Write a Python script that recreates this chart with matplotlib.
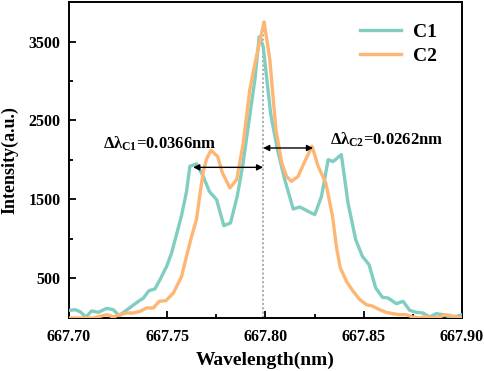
import matplotlib
matplotlib.use("Agg")
import matplotlib.pyplot as plt
from matplotlib.ticker import MultipleLocator, FixedLocator

plt.rcParams['font.family'] = ['Liberation Serif', 'DejaVu Serif']
plt.rcParams['font.weight'] = 'bold'
plt.rcParams['mathtext.fontset'] = 'custom'
plt.rcParams['mathtext.rm'] = 'Liberation Serif:bold'
plt.rcParams['mathtext.it'] = 'Liberation Serif:bold'
plt.rcParams['mathtext.bf'] = 'Liberation Serif:bold'

# C1 (teal)
c1_wl = [667.7000, 667.7031, 667.7056, 667.7086, 667.7115, 667.7149, 667.7192, 667.7225,
         667.7256, 667.7285, 667.7319, 667.7353, 667.7378, 667.7407, 667.7437, 667.7463,
         667.7497, 667.7522, 667.7547, 667.7573, 667.7598, 667.7615, 667.7649, 667.7683,
         667.7714, 667.7751, 667.7788, 667.7822, 667.7856, 667.7886, 667.7917, 667.7946,
         667.7968, 667.7988, 667.8027, 667.8061, 667.8098, 667.8141, 667.8175, 667.8217,
         667.8251, 667.8285, 667.8319, 667.8344, 667.8386, 667.8420, 667.8459, 667.8493,
         667.8527, 667.8561, 667.8595, 667.8624, 667.8666, 667.8700, 667.8734, 667.8768,
         667.8802, 667.8836, 667.8869, 667.8903, 667.8937, 667.8971, 667.9000]
c1_int = [97, 105, 80, 13, 89, 72, 122, 105,
          30, 85, 148, 211, 250, 346, 367, 485,
          654, 823, 1055, 1300, 1600, 1920, 1950, 1793,
          1603, 1498, 1169, 1203, 1540, 1962, 2511, 3017,
          3560, 3440, 2574, 2131, 1751, 1380, 1405, 1350,
          1308, 1540, 2004, 1980, 2068, 1456, 992, 781,
          675, 380, 262, 253, 181, 211, 97, 72,
          63, 13, 55, 42, 13, 20, 42]

# C2 (orange)
c2_wl = [667.7000, 667.7056, 667.7124, 667.7158, 667.7192, 667.7225, 667.7259, 667.7293,
         667.7327, 667.7361, 667.7395, 667.7429, 667.7459, 667.7493, 667.7531, 667.7573,
         667.7598, 667.7624, 667.7649, 667.7666, 667.7683, 667.7700, 667.7722, 667.7756,
         667.7781, 667.7819, 667.7853, 667.7886, 667.7920, 667.7954, 667.7993, 667.8022,
         667.8053, 667.8083, 667.8107, 667.8132, 667.8166, 667.8200, 667.8237, 667.8268,
         667.8307, 667.8341, 667.8361, 667.8380, 667.8412, 667.8446, 667.8480, 667.8514,
         667.8547, 667.8581, 667.8614, 667.8647, 667.8681, 667.8715, 667.8749, 667.8783,
         667.8817, 667.8850, 667.8885, 667.8919, 667.9000]
c2_int = [0, 0, 0, 21, 42, 13, 42, 63,
          63, 84, 127, 127, 211, 219, 316, 527,
          781, 1034, 1250, 1560, 1850, 2013, 2122, 2046,
          1835, 1646, 1751, 2200, 2890, 3312, 3747, 3270,
          2384, 1962, 1793, 1730, 1793, 1983, 2173, 1920,
          1709, 1290, 900, 640, 464, 338, 232, 169,
          148, 105, 72, 55, 42, 42, 13, 0,
          21, 0, 13, 42, 0]

x_ticks = [667.70, 667.75, 667.80, 667.85, 667.90]
y_ticks = [500, 1500, 2500, 3500]
center_wl = 667.7988
arrow1 = (667.7632, 667.7988, 1907)
arrow2 = (667.7988, 667.8242, 2152)

teal = '#80CDC1'
orange = '#FDB673'

fig = plt.figure(figsize=(4.84, 3.71), dpi=100)
ax = fig.add_axes([0.1426, 0.1429, 0.9545 - 0.1426, 0.9946 - 0.1429])

ax.plot(c1_wl, c1_int, color=teal, lw=2.4, label='C1', zorder=3)
ax.plot(c2_wl, c2_int, color=orange, lw=2.4, label='C2', zorder=4)

ax.plot([center_wl, center_wl], [0, 3750], color='#A8A8A8', lw=1.3, ls=(0, (1.2, 1.2)), zorder=2)

for a0, a1, yv in [arrow1, arrow2]:
    ax.annotate('', xy=(a0, yv), xytext=(a1, yv),
                arrowprops=dict(arrowstyle='<|-|>', color='black', lw=1.0,
                                mutation_scale=9, shrinkA=0, shrinkB=0), zorder=6)

ax.text(667.7463, 2200, r'$\Delta\lambda_{\rm C1}$=0.0366nm', ha='center', va='center',
        fontsize=12, fontweight='bold')
ax.text(667.8618, 2260, r'$\Delta\lambda_{\rm C2}$=0.0262nm', ha='center', va='center',
        fontsize=12, fontweight='bold')

ax.set_xlim(667.70, 667.90)
ax.set_ylim(0, 4000)
ax.xaxis.set_major_locator(FixedLocator(x_ticks))
ax.xaxis.set_minor_locator(MultipleLocator(0.025))
ax.yaxis.set_major_locator(FixedLocator(y_ticks))
ax.yaxis.set_minor_locator(FixedLocator([1000, 2000, 3000]))
ax.set_xticklabels(['%.2f' % v for v in x_ticks])
ax.set_yticklabels([str(v) for v in y_ticks])
ax.tick_params(which='both', direction='in', top=False, right=False, width=1.3,
               labelsize=11.5)
ax.tick_params(axis='x', pad=8)
ax.tick_params(axis='y', pad=6)
ax.tick_params(which='major', length=5)
ax.tick_params(which='minor', length=3)
for lab in ax.get_xticklabels() + ax.get_yticklabels():
    lab.set_fontweight('bold')
for s in ax.spines.values():
    s.set_linewidth(1.4)

ax.set_xlabel('Wavelength(nm)', fontsize=14, fontweight='bold', labelpad=5)
ax.set_ylabel('Intensity(a.u.)', fontsize=13, fontweight='bold', labelpad=7)

leg = ax.legend(loc='upper right', frameon=False, fontsize=14, handlelength=2.1,
                handletextpad=0.6, borderaxespad=0.6, bbox_to_anchor=(0.985, 0.995),
                labelspacing=0.35)
for t in leg.get_texts():
    t.set_fontweight('bold')

fig.savefig('out.png', dpi=100)
